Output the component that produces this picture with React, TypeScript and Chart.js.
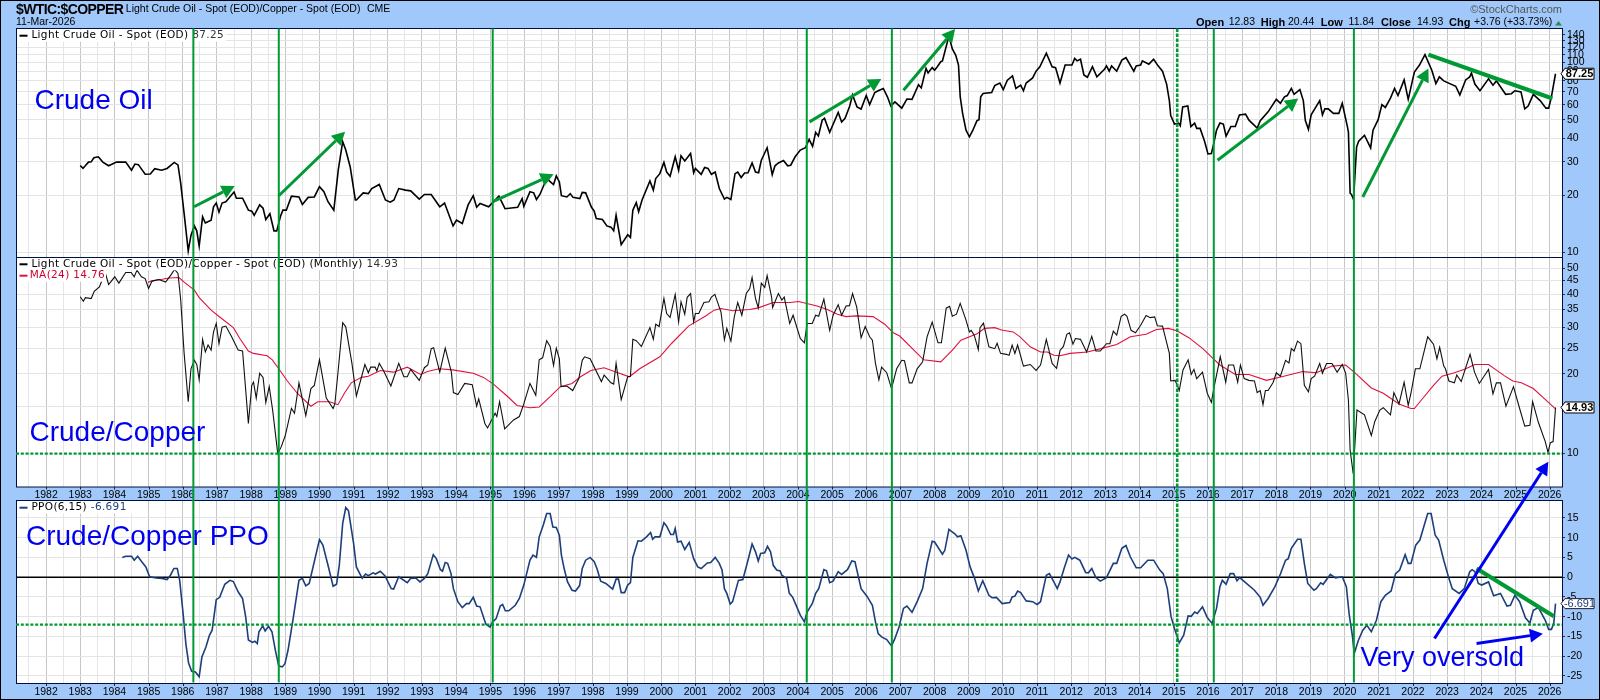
import React, { useEffect, useRef } from 'react'
import { Chart, registerables } from 'chart.js'

Chart.register(...registerables)

// all series are [decimal year, value]
const oilPoints: [number, number][] = [
  [1983.0,28.7],[1983.08,27.7],[1983.24,29.9],[1983.32,30],[1983.4,31.5],[1983.53,31.9],[1983.66,29.9],[1983.83,28.6],[1984.06,29.9],[1984.33,29.9],[1984.5,27.1],[1984.6,29.2],[1984.7,29],[1984.9,25.8],[1985.05,25.9],[1985.18,27.6],[1985.38,27.1],[1985.54,27.7],[1985.75,29.8],[1985.86,28.9],[1985.94,23.1],[1986.04,16],[1986.16,10.2],[1986.24,12.3],[1986.34,13.8],[1986.41,13],[1986.48,10.8],[1986.58,15.4],[1986.66,14.3],[1986.83,14.8],[1986.9,17.4],[1986.98,18.2],[1987.06,16.3],[1987.15,18.2],[1987.26,18.5],[1987.5,20.8],[1987.57,19.3],[1987.75,19.3],[1987.92,16.7],[1988.02,16.5],[1988.09,15.7],[1988.25,17.8],[1988.35,17.1],[1988.43,14.9],[1988.55,16],[1988.67,13],[1988.75,13],[1988.86,15.5],[1988.93,16.7],[1989.03,16.7],[1989.18,19.8],[1989.4,19.6],[1989.5,17.9],[1989.67,19.5],[1989.85,19.6],[1990.0,22.2],[1990.13,20.9],[1990.25,18.5],[1990.42,16.7],[1990.55,27.1],[1990.68,38.3],[1990.77,34.6],[1990.9,28.2],[1991.05,18.9],[1991.08,18.9],[1991.28,20.6],[1991.43,20.4],[1991.53,21.7],[1991.75,22.8],[1991.93,18.9],[1992.07,18.4],[1992.18,18.9],[1992.32,21.7],[1992.52,21.3],[1992.67,21.1],[1992.92,19.1],[1993.07,20.2],[1993.27,20.2],[1993.52,17.4],[1993.66,18.2],[1993.91,13.8],[1994.01,14.8],[1994.18,14.2],[1994.35,17.8],[1994.5,19.9],[1994.6,17.3],[1994.7,18.1],[1994.95,17.4],[1995.25,19.8],[1995.43,17],[1995.8,17.3],[1995.93,19.2],[1995.98,17.5],[1996.16,20.9],
  [1996.27,20.6],[1996.35,19],[1996.45,20.2],[1996.65,24.5],[1996.85,22.8],[1996.93,25.3],[1997.02,23.5],[1997.08,19.9],[1997.24,19.6],[1997.34,20.4],[1997.42,19.5],[1997.62,19.2],[1997.69,20.7],[1997.79,20.6],[1997.96,17.3],[1998.04,16.5],[1998.1,15.1],[1998.28,14.9],[1998.41,13.8],[1998.53,13.6],[1998.61,13],[1998.68,15.7],[1998.83,11],[1999.02,12.4],[1999.1,12],[1999.17,16.7],[1999.27,18.3],[1999.34,16.4],[1999.44,18.9],[1999.67,23.8],[1999.77,21.3],[1999.84,24.5],[1999.96,26],[2000.08,29.8],[2000.16,26.5],[2000.26,25.2],[2000.41,31.9],[2000.51,27.1],[2000.58,32.3],[2000.69,30.3],[2000.86,33.2],[2000.95,26.3],[2001.0,27.7],[2001.17,25.8],[2001.27,28],[2001.37,27.7],[2001.47,25.8],[2001.58,26.5],[2001.7,21.7],[2001.85,19.1],[2001.92,19.5],[2002.04,19],[2002.16,26],[2002.24,26.5],[2002.34,24.8],[2002.44,26.2],[2002.54,26.3],[2002.66,29.6],[2002.76,26.5],[2002.85,26.3],[2002.93,30.6],[2003.1,35.6],[2003.25,25.7],[2003.33,28.6],[2003.43,29.6],[2003.58,30.5],[2003.7,28.6],[2003.79,28.8],[2003.92,31.9],[2004.07,34.6],[2004.22,35.6],[2004.33,39.4],[2004.43,36.2],[2004.52,42.9],[2004.6,41.1],[2004.71,49.7],[2004.78,50.8],[2004.93,42.9],[2005.18,54.6],[2005.28,48.6],[2005.38,50.8],[2005.51,58.4],[2005.6,67.5],[2005.73,58.4],[2005.85,56.9],[2006.0,67],[2006.1,60],[2006.25,69.5],[2006.35,71],[2006.5,73],[2006.62,66],[2006.72,59],[2006.84,62],[2007.04,57.5],[2007.19,64.2],[2007.34,64],[2007.53,76.4],[2007.61,73.5],[2007.75,93],[2007.81,88],[2007.93,94],[2008.0,91],[2008.08,95],[2008.18,101],[2008.23,102],[2008.42,138],[2008.52,118],[2008.62,109],[2008.7,97],[2008.75,66],[2008.82,54],[2008.92,44],[2009.02,40.6],[2009.12,44],[2009.24,49.4],[2009.3,50],[2009.35,66],[2009.42,68.7],[2009.67,69.5],[2009.76,75.6],[2009.91,78],[2010.01,72],[2010.13,80.7],[2010.28,85],[2010.38,73],[2010.52,76],[2010.6,71],[2010.68,78],[2010.87,83],[2010.97,90],[2011.08,95],[2011.27,112],[2011.44,95],[2011.54,94],[2011.67,78],
  [2011.82,97],[2012.02,97],[2012.1,105],[2012.17,102],[2012.27,104],[2012.37,86],[2012.47,83.6],[2012.62,95],[2012.75,84],[2012.97,92],[2013.03,96],[2013.11,90],[2013.18,96],[2013.33,90],[2013.48,103],[2013.6,106],[2013.83,90],[2013.9,96],[2014.03,97],[2014.08,102],[2014.27,98],[2014.41,104],[2014.54,96],[2014.67,90],[2014.79,77],[2014.87,63],[2014.91,52.5],[2015.02,47.4],[2015.14,48],[2015.19,46.5],[2015.26,58.4],[2015.41,59],[2015.5,46],[2015.61,48],[2015.67,45],[2015.77,45],[2015.9,38.5],[2016.0,33],[2016.1,33.2],[2016.17,37.5],[2016.25,44],[2016.35,48],[2016.45,47.4],[2016.53,41],[2016.67,46],[2016.8,46],[2016.92,53],[2017.1,53.5],[2017.2,49.7],[2017.44,45.2],[2017.53,49.4],[2017.76,55],[2018.0,64],[2018.12,61],[2018.24,66],[2018.32,67],[2018.44,73],[2018.52,68],[2018.69,72],[2018.79,63],[2018.85,49.5],[2018.94,44.5],[2019.02,53],[2019.27,63],[2019.35,53],[2019.42,57],[2019.52,57],[2019.67,54],[2019.83,54],[2019.93,61],[2020.08,46],[2020.11,43],[2020.16,20.5],[2020.2,20.2],[2020.26,19],[2020.35,36],[2020.41,38.5],[2020.58,41.4],[2020.76,35.5],[2020.83,44],[2020.98,50],[2021.09,60],[2021.19,58],[2021.34,65],[2021.46,73],[2021.56,67],[2021.74,81],[2021.86,64],[2022.04,89],[2022.19,97],[2022.35,110],[2022.55,91],[2022.67,77.5],[2022.77,84],[2022.9,80],[2023.25,75],[2023.37,67.5],[2023.54,81],[2023.66,84],[2023.71,88],[2023.81,77],[2023.96,71],[2024.21,82],[2024.34,76],[2024.44,80],[2024.71,68],[2024.88,68.5],[2024.98,71],[2025.16,70],[2025.27,57],[2025.37,59],[2025.52,68],[2025.72,63],[2025.89,57.5],[2025.97,57.5],[2026.05,66],[2026.17,87.25],
]

const ratioPoints: [number, number][] = [
  [1983.0,39.1],[1983.09,37.6],[1983.15,38.8],[1983.32,38.5],[1983.41,41],[1983.56,42.6],[1983.73,48.3],[1983.83,43.5],[1984.01,46.5],[1984.13,44],[1984.33,48.3],[1984.49,48.3],[1984.58,46.5],[1984.66,49.3],[1984.79,46.5],[1984.9,45.8],[1985.0,42],[1985.1,44.8],[1985.3,45.4],[1985.5,44.4],[1985.65,47.2],[1985.76,49.6],[1985.86,47.9],[1985.94,38],[1986.04,23.9],[1986.16,15.7],[1986.24,20.9],[1986.34,22.5],[1986.41,21.7],[1986.48,19],[1986.58,27],[1986.66,24.2],[1986.74,25.7],[1986.83,24.6],[1986.9,28.8],[1986.98,31],[1987.06,26],[1987.15,30],[1987.26,30.3],[1987.43,27.6],[1987.62,24.6],[1987.75,24.4],[1987.92,13],[1988.02,18.1],[1988.07,18.6],[1988.15,16.2],[1988.25,20.1],[1988.35,19.4],[1988.43,15.6],[1988.53,17.9],[1988.63,14.6],[1988.78,10],[1988.88,10.6],[1989.0,11.7],[1989.18,14.8],[1989.27,14.2],[1989.4,18.5],[1989.6,13.9],[1989.75,17.6],[1989.85,18.1],[1990.0,22.6],[1990.2,16.2],[1990.4,14.8],[1990.45,15.4],[1990.54,20.1],[1990.68,31.2],[1990.77,30.1],[1990.95,21.9],[1991.08,16.5],[1991.33,21.7],[1991.43,20.2],[1991.5,21.2],[1991.63,21.2],[1991.68,20.5],[1991.75,21.9],[1991.88,20.5],[1992.09,18],[1992.32,21.9],[1992.47,19.5],[1992.57,19.5],[1992.67,20.8],[1992.92,18.9],[1993.07,21.1],[1993.17,21.6],[1993.27,24.9],[1993.34,25.1],[1993.52,20.3],[1993.68,25],[1993.86,20.3],[1993.92,17],[1994.05,16.7],[1994.25,18.4],[1994.47,18.2],[1994.6,15.1],[1994.66,16.1],[1994.84,13],[1994.92,12.5],[1995.14,14.2],[1995.19,13.8],[1995.27,15.7],[1995.42,12.4],[1995.68,13.4],[1995.85,13.8],[1995.98,15.4],[1996.16,18.4],
  [1996.33,16.6],[1996.43,22.6],[1996.53,23],[1996.65,26.7],[1996.75,25.4],[1996.85,21.5],[1996.93,25],[1997.02,22.8],[1997.07,17.9],[1997.24,18],[1997.41,17.3],[1997.59,19.2],[1997.69,22.5],[1997.76,23.2],[1997.92,22.8],[1998.25,18.7],[1998.33,19.8],[1998.53,18.5],[1998.61,18.3],[1998.68,21.9],[1998.83,16],[1999.02,19.5],[1999.1,19.6],[1999.17,27],[1999.27,26.7],[1999.34,26.1],[1999.42,25.4],[1999.67,29.9],[1999.77,27],[1999.84,30.8],[1999.94,30.2],[2000.08,38.5],[2000.16,33.8],[2000.26,32.7],[2000.41,39.9],[2000.51,31.4],[2000.58,37.4],[2000.69,33.6],[2000.76,38.9],[2000.86,40.2],[2000.95,31.4],[2001.0,33.8],[2001.1,33.8],[2001.25,37.2],[2001.4,37.4],[2001.47,39],[2001.57,39.9],[2001.75,34.2],[2001.85,26.9],[2001.92,29.7],[2002.04,26.6],[2002.14,32.9],[2002.24,37.2],[2002.36,33.3],[2002.49,40.2],[2002.59,42],[2002.66,46.2],[2002.76,38.5],[2002.84,35.5],[2002.93,44],[2003.03,42.4],[2003.1,47],[2003.23,39],[2003.26,35.6],[2003.43,40.2],[2003.53,38],[2003.6,39],[2003.76,31],[2003.86,33.3],[2004.07,27.2],[2004.19,26.2],[2004.27,31],[2004.42,31],[2004.52,33.3],[2004.61,33],[2004.76,38.3],[2004.93,29.2],[2005.03,33.3],[2005.18,36.5],[2005.28,33.3],[2005.41,36.1],[2005.51,36.2],[2005.6,40.2],[2005.72,35.8],[2005.85,27.4],[2005.97,30.2],[2006.1,27.6],[2006.18,26.8],[2006.27,21.9],[2006.37,19],[2006.45,21.2],[2006.6,20.2],[2006.74,17.6],[2006.89,20.9],[2007.04,22.5],[2007.12,22.4],[2007.26,18.5],[2007.34,18.5],[2007.49,20.9],[2007.65,22.2],[2007.78,27.6],[2007.93,31.4],[2008.1,26.2],[2008.2,26.2],[2008.34,35.4],[2008.44,36],[2008.52,33],[2008.64,33.6],[2008.75,36.9],[2008.92,31.9],[2009.02,28.8],[2009.07,29.2],[2009.16,28],[2009.28,24.7],[2009.33,29.9],[2009.43,31.1],[2009.59,25.3],[2009.76,24.9],[2009.83,26.1],[2009.93,23.9],[2010.1,23.7],[2010.18,23.5],[2010.27,25.7],[2010.35,23.9],[2010.43,25.7],[2010.6,21.4],[2010.8,21.7],[2010.97,20.6],[2011.1,21.6],[2011.27,27],[2011.44,21.9],[2011.57,21],[2011.67,24.5],
  [2011.77,25.4],[2011.87,28.2],[2011.95,28.6],[2012.05,25.9],[2012.12,27.2],[2012.27,27],[2012.45,24.2],[2012.6,27.7],[2012.72,24.4],[2012.85,24.4],[2013.03,26],[2013.13,26],[2013.23,29],[2013.33,28],[2013.46,33],[2013.56,33.6],[2013.63,33],[2013.75,29.2],[2013.88,28.6],[2014.03,30.5],[2014.19,33.2],[2014.31,32.6],[2014.44,32.8],[2014.52,30.4],[2014.67,30.3],[2014.87,23.9],[2014.91,18.8],[2015.04,18.9],[2015.16,17.3],[2015.27,20.7],[2015.42,22.6],[2015.51,19.9],[2015.59,20.8],[2015.67,19.2],[2015.84,20.3],[2015.98,16.9],[2016.1,15.6],[2016.17,17.6],[2016.36,23.2],[2016.52,18.6],[2016.6,21.6],[2016.75,21.6],[2016.87,18.6],[2016.95,21.6],[2017.06,19.2],[2017.2,18.9],[2017.36,18.8],[2017.44,17],[2017.53,17.3],[2017.61,15.3],[2017.68,17.3],[2017.76,17.3],[2017.91,18.6],[2018.0,20.2],[2018.12,19.6],[2018.27,22.5],[2018.37,22],[2018.44,24.9],[2018.52,24.4],[2018.62,26.6],[2018.72,26],[2018.82,18.1],[2018.94,17.1],[2019.02,19.2],[2019.12,19.6],[2019.27,21.9],[2019.35,20.1],[2019.47,21.9],[2019.63,21.9],[2019.78,20.3],[2019.93,21.7],[2020.03,20.1],[2020.11,15.9],[2020.16,10.3],[2020.25,8.4],[2020.36,14.6],[2020.58,14],[2020.78,11.7],[2020.88,13.2],[2021.03,14.6],[2021.13,14.9],[2021.34,14],[2021.44,17],[2021.59,15.4],[2021.74,18.6],[2021.86,15.2],[2021.94,16.9],[2022.07,20.9],[2022.2,20.9],[2022.43,27.6],[2022.6,25.9],[2022.7,22.8],[2022.78,25.2],[2022.9,21.4],[2022.95,20.9],[2023.05,18.8],[2023.21,18.5],[2023.28,19.8],[2023.41,18.7],[2023.67,23.7],[2023.8,20.3],[2023.94,18.4],[2024.21,20.8],[2024.34,16.8],[2024.44,18.5],[2024.56,18.5],[2024.72,15.1],[2024.94,17.9],[2025.12,14.8],[2025.27,12.7],[2025.42,12.8],[2025.5,15.7],[2025.67,13.1],[2025.87,11.1],[2025.95,10.1],[2026.02,11],[2026.1,11.1],[2026.17,14.93],
]

const maPoints: [number, number][] = [
  [1984.98,44.3],[1985.1,44.9],[1985.4,45.5],[1985.6,46],[1985.89,46.2],[1986.04,44.4],[1986.34,41.4],[1986.48,38.8],[1986.83,34.8],[1987.08,32.8],[1987.48,29.9],[1987.67,27.2],[1987.92,24.4],[1988.07,23.9],[1988.47,23.4],[1988.62,22.6],[1988.81,20.9],[1989.06,18.8],[1989.35,16.9],[1989.75,15.1],[1989.95,15.7],[1990.3,15.7],[1990.54,15.3],[1990.73,16.9],[1990.93,18.5],[1991.23,19.4],[1991.43,19.6],[1991.78,20.6],[1992.17,20.3],[1992.57,21.2],[1992.96,19.9],[1993.16,20.4],[1993.5,20.9],[1993.9,20.7],[1994.5,20.1],[1994.8,19.4],[1995.09,18.3],[1995.49,16.5],[1995.78,15.2],[1996.16,14.9],
  [1996.43,15],[1996.75,16.4],[1997.05,17.9],[1997.39,18.4],[1997.64,19.5],[1997.94,20.6],[1998.33,21.1],[1998.63,20.4],[1999.07,19.5],[1999.37,20.9],[1999.96,23.2],[2000.31,26.1],[2000.8,30.3],[2001.3,33.1],[2001.55,34.8],[2001.75,35.3],[2002.09,34.6],[2002.59,35],[2002.84,35.5],[2003.28,37.2],[2003.77,37.2],[2004.02,37.5],[2004.32,36.7],[2004.56,36.1],[2004.86,35],[2005.16,33.6],[2005.41,32.9],[2005.7,33.1],[2006.2,32.9],[2006.54,30.8],[2006.79,28.6],[2006.98,27.8],[2007.68,22.6],[2008.18,22.2],[2008.52,24.6],[2008.77,26.8],[2009.26,28.4],[2009.46,29.7],[2009.76,29.9],[2009.96,29.3],[2010.3,28.8],[2010.5,27.6],[2010.8,25.3],[2011.1,24.2],[2011.3,24.2],[2011.49,23.5],[2011.67,23.4],
  [2011.97,23.9],[2012.47,24.2],[2012.87,24.9],[2013.33,25.8],[2013.73,27.6],[2014.19,28.2],[2014.49,29.4],[2014.84,29.7],[2015.09,29.1],[2015.44,27.4],[2015.85,24.9],[2016.1,23.2],[2016.35,21.6],[2016.8,19.9],[2017.2,19.9],[2017.71,18.9],[2018.22,19.6],[2018.77,20.4],[2019.17,20.2],[2019.63,21.4],[2020.03,21.6],[2020.28,20.3],[2020.78,17.7],[2021.13,16.9],[2021.59,15.4],[2021.94,14.8],[2022.04,14.8],[2022.24,15.9],[2022.6,18.1],[2022.85,19.6],[2023.21,20.2],[2023.51,20.8],[2023.81,21.7],[2024.21,21.7],[2024.67,19.7],[2024.92,18.8],[2025.17,18.5],[2025.52,17.6],[2025.78,16.4],[2026.17,14.76],
]

const ppoPoints: [number, number][] = [
  [1984.23,5],[1984.33,5.3],[1984.5,5.3],[1984.58,4.3],[1984.68,5.3],[1984.8,3.9],[1984.92,2.6],[1985.03,0.1],[1985.22,-0.2],[1985.39,-0.3],[1985.54,-0.6],[1985.64,0.5],[1985.74,2.2],[1985.84,2.2],[1985.91,-0.8],[1986.01,-9.2],[1986.09,-16.8],[1986.17,-21.7],[1986.26,-23.8],[1986.37,-24],[1986.48,-25.2],[1986.56,-20.2],[1986.68,-17.6],[1986.78,-14.7],[1986.86,-13.4],[1986.98,-5.7],[1987.08,-5.1],[1987.23,-1.8],[1987.38,-0.8],[1987.48,-1.1],[1987.62,-3.7],[1987.75,-5.4],[1987.84,-10],[1987.92,-15.9],[1988.04,-16.5],[1988.11,-16.2],[1988.18,-16.8],[1988.23,-13.8],[1988.34,-12.3],[1988.41,-13.6],[1988.51,-12.4],[1988.61,-13.8],[1988.71,-18.5],[1988.81,-22.5],[1988.91,-22.7],[1988.99,-21.9],[1989.08,-18.5],[1989.23,-10.5],[1989.4,-0.8],[1989.5,-0.3],[1989.6,-2.2],[1989.7,-1.6],[1990.0,9.5],[1990.1,8.1],[1990.25,3],[1990.4,-2.3],[1990.5,-1.8],[1990.58,3],[1990.68,13.6],[1990.77,17.6],[1990.85,16.8],[1991.0,8.5],[1991.08,2.6],[1991.25,-0.3],[1991.35,0.8],[1991.43,0.4],[1991.57,1.1],[1991.64,0.8],[1991.78,1.5],[1991.92,0.3],[1992.1,-2.9],[1992.17,-3],[1992.32,0.1],[1992.57,-1.4],[1992.67,-0.3],[1992.82,-0.2],[1992.94,-1.2],[1993.07,-0.3],[1993.17,0.9],[1993.33,5.7],[1993.42,4.7],[1993.54,1.9],[1993.6,1.5],[1993.68,3.7],[1993.75,3.5],[1993.85,0.9],[1993.92,-2.9],[1994.05,-6.2],[1994.18,-7.7],[1994.3,-6.7],[1994.38,-6.7],[1994.5,-5.1],[1994.6,-7.3],[1994.7,-7.5],[1994.87,-11.9],[1994.99,-12.6],[1995.07,-11.3],[1995.17,-10.5],[1995.29,-7.3],[1995.36,-6.9],[1995.44,-8.5],[1995.54,-8.5],[1995.73,-7.1],[1995.85,-5.4],[1995.98,-2],[1996.16,4.3],
  [1996.25,5.6],[1996.35,5],[1996.43,10.2],[1996.55,13.2],[1996.65,16.1],[1996.75,16.1],[1996.83,12.7],[1996.93,12.6],[1997.02,10.6],[1997.08,5.6],[1997.17,1.8],[1997.26,-1.2],[1997.39,-3.3],[1997.49,-3.5],[1997.61,-2.2],[1997.69,2.2],[1997.79,4.3],[1997.92,5],[1998.04,3.9],[1998.12,2.2],[1998.23,-1],[1998.38,-1.6],[1998.58,-3],[1998.68,-0.5],[1998.75,-0.5],[1998.83,-3.9],[1998.93,-3.9],[1999.02,-2],[1999.1,-1.4],[1999.17,5],[1999.32,9.2],[1999.42,9.1],[1999.57,10.2],[1999.69,11.3],[1999.75,9.6],[1999.82,10.2],[1999.96,10.2],[2000.08,13.8],[2000.16,12.9],[2000.28,10.8],[2000.36,10.8],[2000.41,12.3],[2000.48,8.9],[2000.58,9.1],[2000.69,7],[2000.82,8.8],[2000.95,4.7],[2001.07,2.6],[2001.17,2.2],[2001.35,3.6],[2001.45,3.7],[2001.58,5],[2001.7,3.5],[2001.78,1.8],[2001.85,-2.9],[2001.92,-4.1],[2002.02,-6.8],[2002.09,-6.2],[2002.26,-0.8],[2002.39,-0.6],[2002.54,4.3],[2002.66,8.4],[2002.76,6.4],[2002.84,4.1],[2002.91,6],[2003.03,6.2],[2003.11,7.8],[2003.2,6.4],[2003.28,3],[2003.38,1.8],[2003.48,1.6],[2003.53,0.5],[2003.67,-0.3],[2003.75,-4.1],[2003.85,-5.1],[2004.07,-9.6],[2004.19,-11.3],[2004.27,-8.8],[2004.42,-6.7],[2004.52,-4.1],[2004.61,-2.9],[2004.76,1.9],[2004.84,1.6],[2004.93,-1.4],[2005.03,-1],[2005.18,1.4],[2005.28,0.7],[2005.45,1.9],[2005.58,4.1],[2005.67,3.9],[2005.75,0.9],[2005.85,-2.9],[2006.02,-4.8],[2006.18,-7.1],[2006.27,-11.3],[2006.35,-14.3],[2006.45,-15.1],[2006.6,-15.8],[2006.74,-17.4],[2006.84,-15.5],[2006.96,-12.6],[2007.09,-7.9],[2007.19,-7.3],[2007.34,-8.9],[2007.49,-6.2],[2007.65,-2.9],[2007.78,3.5],[2007.93,9.1],[2008.0,8.9],[2008.23,5.8],[2008.3,6.8],[2008.42,12.1],[2008.6,10.9],[2008.67,10.2],[2008.77,10.5],[2008.92,6.8],[2009.04,2.6],[2009.17,-0.3],[2009.28,-3.5],[2009.41,-0.9],[2009.59,-4.6],[2009.68,-5.2],[2009.81,-5.1],[2009.98,-6.7],[2010.2,-6.4],[2010.27,-5],[2010.35,-4.8],[2010.43,-3.5],[2010.52,-3.9],[2010.68,-6],[2010.87,-6.2],[2011.0,-6.9],[2011.1,-6.2],[2011.27,0.5],[2011.36,0.9],[2011.49,-1.2],[2011.59,-2.9],[2011.67,-1.2],
  [2011.79,2.2],[2011.92,5.6],[2012.02,4.6],[2012.1,5],[2012.25,4.3],[2012.42,1.2],[2012.5,1.1],[2012.6,2.2],[2012.72,-0.1],[2012.85,-1],[2013.03,-0.1],[2013.23,3.5],[2013.33,3.5],[2013.48,7.3],[2013.6,8],[2013.73,5.1],[2013.9,2.4],[2014.03,2.4],[2014.24,4.3],[2014.41,4.3],[2014.59,1.8],[2014.69,0.9],[2014.81,-2.9],[2014.92,-10],[2015.02,-13],[2015.16,-16.6],[2015.29,-14.7],[2015.42,-9.8],[2015.51,-9.9],[2015.61,-8.8],[2015.69,-9.2],[2015.84,-7.5],[2015.98,-10.2],[2016.12,-11.7],[2016.25,-7.9],[2016.35,-2.4],[2016.42,-0.8],[2016.53,-1.8],[2016.65,0.9],[2016.75,0.9],[2016.85,-0.9],[2016.93,-0.1],[2017.1,-1.4],[2017.36,-3.3],[2017.53,-5.1],[2017.61,-7.1],[2017.76,-5.4],[2017.96,-2.4],[2018.12,0.8],[2018.27,4.3],[2018.35,4.7],[2018.44,7.3],[2018.62,9.6],[2018.72,9.6],[2018.82,3.5],[2018.92,-1.6],[2019.1,-3.3],[2019.17,-2.9],[2019.3,-1.4],[2019.37,-1.8],[2019.58,0.7],[2019.73,-0.2],[2019.93,0.1],[2020.05,-2.4],[2020.13,-9.2],[2020.23,-15.1],[2020.28,-19.3],[2020.4,-16],[2020.53,-13.4],[2020.65,-12.2],[2020.78,-13.8],[2020.93,-10.9],[2021.06,-6.2],[2021.19,-4.6],[2021.36,-3.5],[2021.49,0.9],[2021.61,1.8],[2021.77,5.7],[2021.86,3.5],[2021.94,3.5],[2022.08,8.1],[2022.2,9.4],[2022.43,16.1],[2022.53,16.1],[2022.65,10.6],[2022.75,9.4],[2022.9,4.3],[2023.05,-0.3],[2023.15,-2.9],[2023.35,-4.1],[2023.5,-2.9],[2023.66,1.4],[2023.73,1.9],[2023.81,1.4],[2023.91,-1.6],[2024.01,-2],[2024.21,-1.2],[2024.36,-4.7],[2024.56,-4.1],[2024.75,-7.3],[2024.85,-7.1],[2024.98,-4.6],[2025.12,-6.2],[2025.29,-10.3],[2025.42,-11.6],[2025.52,-8.4],[2025.67,-7.7],[2025.87,-10.9],[2025.97,-13.2],[2026.05,-13.2],[2026.12,-11.7],[2026.17,-6.691],
]

const yearLabels = Array.from({ length: 45 }, (_, i) => 1982 + i)
const oilTicks = [10, 20, 30, 40, 50, 60, 70, 80, 90, 100, 110, 120, 130, 140]
const ratioTicks = [10, 15, 20, 25, 30, 35, 40, 45, 50]
const ppoTicks = [15, 10, 5, 0, -5, -10, -15, -20, -25]

const solidMarks = [1986.31, 1988.81, 1995.07, 2004.26, 2006.75, 2016.17, 2020.27]
const dashedMarks = [2015.1]
const ratioFloor = 10
const ppoFloor = -12

// [from year, from value, to year, to value]
const oilArrows = [
  [1986.33, 17.4, 1987.52, 22.4],
  [1988.81, 19.9, 1990.75, 43.2],
  [1995.09, 18.6, 1996.85, 25.8],
  [2004.34, 48.7, 2006.44, 82],
  [2007.09, 71.5, 2008.6, 150],
  [2016.28, 30.6, 2018.64, 64.7],
  [2020.53, 19.6, 2022.45, 92.9],
]
const oilTrend = [2022.45, 110, 2026.08, 64.7]
const ppoTrend = [2023.86, 2.2, 2026.12, -9.9]
const ppoArrows = [
  [2022.63, -15.5, 2025.96, 29.2],
  [2023.86, -16.8, 2025.8, -14.3],
]

const GREEN = '#009933'
const BLUE = '#0000F0'
const NAVY = '#001040'
const BAND = '#A0C8FA'
const SANS = '"Liberation Sans", Arial, sans-serif'
const LEGEND = '"DejaVu Sans", Verdana, sans-serif'

const PLOT = { left: 16, right: 1562, top: 28.5, split: 257.5, midBottom: 487, lowTop: 500.5, bottom: 683.5 }

const toXY = (pts: [number, number][]) => pts.map(([x, y]) => ({ x, y }))

function xTicks(scale: any) {
  const out: { value: number }[] = []
  yearLabels.forEach(y => {
    out.push({ value: y - 0.5 })
    out.push({ value: y })
  })
  scale.ticks = out
}

function text(ctx: CanvasRenderingContext2D, s: string, x: number, y: number, font: string, color: string, align: CanvasTextAlign = 'left') {
  ctx.font = font
  ctx.fillStyle = color
  ctx.textAlign = align
  ctx.textBaseline = 'middle'
  ctx.fillText(s, x, y)
}

function segment(ctx: CanvasRenderingContext2D, x1: number, y1: number, x2: number, y2: number, color: string, width: number, dash: number[] = []) {
  ctx.save()
  ctx.strokeStyle = color
  ctx.lineWidth = width
  ctx.setLineDash(dash)
  ctx.beginPath()
  ctx.moveTo(x1, y1)
  ctx.lineTo(x2, y2)
  ctx.stroke()
  ctx.restore()
}

function arrow(ctx: CanvasRenderingContext2D, x1: number, y1: number, x2: number, y2: number, color: string) {
  const a = Math.atan2(y2 - y1, x2 - x1)
  const len = 13
  const half = 7
  const bx = x2 - len * Math.cos(a)
  const by = y2 - len * Math.sin(a)
  segment(ctx, x1, y1, bx, by, color, 3)
  ctx.fillStyle = color
  ctx.beginPath()
  ctx.moveTo(x2, y2)
  ctx.lineTo(bx + half * Math.sin(a), by - half * Math.cos(a))
  ctx.lineTo(bx - half * Math.sin(a), by + half * Math.cos(a))
  ctx.closePath()
  ctx.fill()
}

function valueTag(ctx: CanvasRenderingContext2D, label: string, y: number, bold: boolean, color: string) {
  const x0 = 1565
  const x1 = 1594
  const half = bold ? 5.5 : 5
  ctx.fillStyle = '#fff'
  ctx.strokeStyle = bold ? '#000' : '#223'
  ctx.lineWidth = 1
  ctx.beginPath()
  ctx.moveTo(x0 - 4, y)
  ctx.lineTo(x0, y - half)
  ctx.lineTo(x1, y - half)
  ctx.lineTo(x1, y + half)
  ctx.lineTo(x0, y + half)
  ctx.closePath()
  ctx.fill()
  ctx.stroke()
  text(ctx, label, (x0 + x1) / 2, y + 0.5, `${bold ? 'bold ' : ''}11px ${SANS}`, color, 'center')
}

function legendRow(ctx: CanvasRenderingContext2D, y: number, dash: string, parts: [string, string][], startX: number, bgRight: number) {
  ctx.fillStyle = '#fff'
  ctx.fillRect(PLOT.left + 1, y - 6, bgRight - PLOT.left - 1, 12)
  segment(ctx, 19.5, y, 27.5, y, dash, 2)
  let x = startX
  const font = `10.5px ${LEGEND}`
  ctx.font = font
  ctx.letterSpacing = '0.35px'
  parts.forEach(([s, color]) => {
    text(ctx, s, x, y, font, color)
    x += ctx.measureText(s).width
  })
  ctx.letterSpacing = '0px'
}

const panelPlugin = {
  id: 'panels',
  afterLayout(chart: any) {
    const place = (s: any, l: number, t: number, r: number, b: number) => {
      s.left = l
      s.top = t
      s.right = r
      s.bottom = b
      s.width = r - l
      s.height = b - t
      s.configure()
    }
    const s = chart.scales
    place(s.x, PLOT.left, PLOT.midBottom, PLOT.right, PLOT.lowTop)
    place(s.xBottom, PLOT.left, PLOT.bottom, PLOT.right, 699)
    place(s.yOil, PLOT.right, PLOT.top, 1600, PLOT.split)
    place(s.yRatio, PLOT.right, PLOT.split, 1600, PLOT.midBottom)
    place(s.yPpo, PLOT.right, PLOT.lowTop, 1600, PLOT.bottom)
    Object.assign(chart.chartArea, {
      left: PLOT.left,
      right: PLOT.right,
      top: PLOT.top,
      bottom: PLOT.bottom,
      width: PLOT.right - PLOT.left,
      height: PLOT.bottom - PLOT.top,
    })
  },
  beforeDraw(chart: any) {
    const { ctx } = chart
    ctx.save()
    ctx.fillStyle = BAND
    ctx.fillRect(0, 0, 1600, 700)
    ctx.fillStyle = '#fff'
    ctx.fillRect(PLOT.left, PLOT.top, PLOT.right - PLOT.left, PLOT.bottom - PLOT.top)
    ctx.restore()
  },
  beforeDatasetsDraw(chart: any) {
    const { ctx, scales } = chart
    ctx.save()
    ctx.fillStyle = BAND
    ctx.fillRect(PLOT.left, PLOT.midBottom, PLOT.right - PLOT.left, PLOT.lowTop - PLOT.midBottom)
    // year ticks hanging under the middle and lower panels
    yearLabels.forEach(y => {
      const px = Math.round(scales.x.getPixelForValue(y)) + 0.5
      segment(ctx, px, PLOT.midBottom, px, PLOT.midBottom + 2.5, '#223', 1)
      segment(ctx, px, PLOT.bottom, px, PLOT.bottom + 2.5, '#223', 1)
    })
    const zero = scales.yPpo.getPixelForValue(0)
    segment(ctx, PLOT.left, zero, PLOT.right, zero, '#000', 1.6)
    ctx.restore()
  },
  afterDatasetsDraw(chart: any) {
    const { ctx } = chart
    ctx.save()
    legendRow(ctx, 35.7, '#000', [['Light Crude Oil - Spot (EOD) ', '#000'], ['87.25', '#333']], 31.4, 226)
    legendRow(ctx, 264.3, '#000', [['Light Crude Oil - Spot (EOD)/Copper - Spot (EOD) (Monthly) ', '#000'], ['14.93', '#333']], 31.4, 403)
    legendRow(ctx, 275.7, '#E0103C', [['MA(24) 14.76', '#D00030']], 29.7, 106)
    legendRow(ctx, 507.7, '#1C3F7C', [['PPO(6,15) ', '#000'], ['-6.691', '#1C3F7C']], 31.4, 132)
    ctx.restore()
  },
  afterDraw(chart: any) {
    const { ctx, scales } = chart
    const { x, yOil, yRatio, yPpo } = scales
    ctx.save()

    // frame
    ctx.strokeStyle = NAVY
    ctx.lineWidth = 1
    ctx.strokeRect(PLOT.left + 0.5, PLOT.top, PLOT.right - PLOT.left, PLOT.midBottom - PLOT.top)
    ctx.strokeRect(PLOT.left + 0.5, PLOT.lowTop, PLOT.right - PLOT.left, PLOT.bottom - PLOT.lowTop)
    segment(ctx, PLOT.left, PLOT.split, PLOT.right, PLOT.split, NAVY, 1)
    ctx.strokeStyle = '#000'
    ctx.strokeRect(0.5, 0.5, 1599, 699)

    // dashed floors
    const rf = yRatio.getPixelForValue(ratioFloor)
    segment(ctx, PLOT.left, rf, PLOT.right, rf, GREEN, 2.4, [3, 1.8])
    const pf = yPpo.getPixelForValue(ppoFloor)
    segment(ctx, PLOT.left, pf, PLOT.right, pf, GREEN, 2.4, [3, 1.8])

    // event lines
    solidMarks.forEach(m => {
      const px = x.getPixelForValue(m)
      segment(ctx, px, PLOT.top, px, PLOT.bottom - 1, GREEN, 2)
    })
    dashedMarks.forEach(m => {
      const px = x.getPixelForValue(m)
      segment(ctx, px, PLOT.top, px, PLOT.bottom - 1, GREEN, 2.6, [3.5, 1.5])
    })

    // arrows and trend lines
    oilArrows.forEach(a =>
      arrow(ctx, x.getPixelForValue(a[0]), yOil.getPixelForValue(a[1]), x.getPixelForValue(a[2]), yOil.getPixelForValue(a[3]), GREEN)
    )
    segment(ctx, x.getPixelForValue(oilTrend[0]), yOil.getPixelForValue(oilTrend[1]), x.getPixelForValue(oilTrend[2]), yOil.getPixelForValue(oilTrend[3]), GREEN, 4.2)
    segment(ctx, x.getPixelForValue(ppoTrend[0]), yPpo.getPixelForValue(ppoTrend[1]), x.getPixelForValue(ppoTrend[2]), yPpo.getPixelForValue(ppoTrend[3]), GREEN, 4.2)
    ppoArrows.forEach(a =>
      arrow(ctx, x.getPixelForValue(a[0]), yPpo.getPixelForValue(a[1]), x.getPixelForValue(a[2]), yPpo.getPixelForValue(a[3]), BLUE)
    )

    // blue captions
    const note = `28px ${SANS}`
    text(ctx, 'Crude Oil', 34.5, 101, note, BLUE)
    text(ctx, 'Crude/Copper', 29.5, 433, note, BLUE)
    text(ctx, 'Crude/Copper PPO', 26, 537, note, BLUE)
    text(ctx, 'Very oversold', 1360.5, 659, `27px ${SANS}`, BLUE)

    // header
    ctx.letterSpacing = '-0.6px'
    text(ctx, '$WTIC:$COPPER', 16, 10, `bold 14px ${SANS}`, '#000')
    ctx.letterSpacing = '0px'
    text(ctx, 'Light Crude Oil - Spot (EOD)/Copper - Spot (EOD)', 125.8, 9.5, `10.5px ${SANS}`, '#000')
    text(ctx, 'CME', 367, 9.5, `10.5px ${SANS}`, '#000')
    text(ctx, '11-Mar-2026', 16, 22.5, `10.5px ${SANS}`, '#000')
    text(ctx, '©StockCharts.com', 1562, 9.5, `11px ${SANS}`, '#555', 'right')
    const bold = `bold 11px ${SANS}`
    const plain = `10.5px ${SANS}`
    text(ctx, 'Open', 1196, 22.5, bold, '#000')
    text(ctx, '12.83', 1228.7, 22.5, plain, '#000')
    text(ctx, 'High', 1260.8, 22.5, bold, '#000')
    text(ctx, '20.44', 1288, 22.5, plain, '#000')
    text(ctx, 'Low', 1320.7, 22.5, bold, '#000')
    text(ctx, '11.84', 1348.6, 22.5, plain, '#000')
    text(ctx, 'Close', 1381, 22.5, bold, '#000')
    text(ctx, '14.93', 1417, 22.5, plain, '#000')
    text(ctx, 'Chg', 1449, 22.5, bold, '#000')
    text(ctx, '+3.76 (+33.73%)', 1474, 22.5, plain, '#000')
    ctx.fillStyle = '#2E8B57'
    ctx.beginPath()
    ctx.moveTo(1555, 25.5)
    ctx.lineTo(1562, 25.5)
    ctx.lineTo(1558.5, 21)
    ctx.closePath()
    ctx.fill()

    // last value tags
    valueTag(ctx, '87.25', yOil.getPixelForValue(87.25), true, '#000')
    valueTag(ctx, '14.93', yRatio.getPixelForValue(14.93), true, '#000')
    valueTag(ctx, '-6.691', yPpo.getPixelForValue(-6.691), false, '#1C3F7C')
    ctx.restore()
  },
}

const yAxis = (min: number, max: number, type: string, values: number[]) => ({
  type,
  position: 'right',
  min,
  max,
  afterBuildTicks: (scale: any) => {
    scale.ticks = values.map(value => ({ value }))
  },
  grid: { color: '#E4E4E4', lineWidth: 1, tickLength: 3, tickColor: '#333', tickBorderDash: [] },
  border: { display: false },
  ticks: {
    autoSkip: false,
    padding: 2,
    z: 1,
    color: '#000',
    font: { family: SANS, size: 10.5 },
    callback: (v: number) => String(v),
  },
})

const xLabels = {
  autoSkip: false,
  maxRotation: 0,
  padding: 2,
  z: 1,
  color: '#000',
  font: { family: SANS, size: 10.5 },
  callback: (v: number) => (Number.isInteger(v) ? String(v) : ''),
}

export default function App() {
  const canvasRef = useRef<HTMLCanvasElement>(null)

  useEffect(() => {
    if (!canvasRef.current) return
    const chart = new Chart(canvasRef.current, {
      type: 'line',
      data: {
        datasets: [
          { data: toXY(oilPoints), yAxisID: 'yOil', borderColor: '#000', borderWidth: 1.6, pointRadius: 0, tension: 0 },
          { data: toXY(ratioPoints), yAxisID: 'yRatio', borderColor: '#111', borderWidth: 1.1, pointRadius: 0, tension: 0 },
          { data: toXY(maPoints), yAxisID: 'yRatio', borderColor: '#E0103C', borderWidth: 1.1, pointRadius: 0, tension: 0 },
          { data: toXY(ppoPoints), yAxisID: 'yPpo', borderColor: '#1C3F7C', borderWidth: 1.6, pointRadius: 0, tension: 0 },
        ],
      },
      options: {
        responsive: false,
        animation: false,
        parsing: false,
        plugins: { legend: { display: false }, tooltip: { enabled: false } },
        scales: {
          x: {
            type: 'linear',
            position: 'bottom',
            min: 1981.12,
            max: 2026.36,
            afterBuildTicks: xTicks,
            grid: {
              color: (c: any) => (Number.isInteger(c.tick?.value) ? '#C6C6C6' : '#E6E6E6'),
              drawTicks: false,
            },
            border: { display: false },
            ticks: xLabels,
          },
          xBottom: {
            type: 'linear',
            position: 'bottom',
            min: 1981.12,
            max: 2026.36,
            afterBuildTicks: xTicks,
            grid: { display: false, drawTicks: false },
            border: { display: false },
            ticks: xLabels,
          },
          yOil: yAxis(9.41, 151, 'logarithmic', oilTicks),
          yRatio: yAxis(7.48, 55, 'logarithmic', ratioTicks),
          yPpo: yAxis(-26.9, 19.4, 'linear', ppoTicks),
        },
      } as any,
      plugins: [panelPlugin],
    })
    return () => chart.destroy()
  }, [])

  return (
    <div style={{ position: 'absolute', left: 0, top: 0, width: 1600, height: 700 }}>
      <canvas ref={canvasRef} width={1600} height={700} style={{ display: 'block' }} />
    </div>
  )
}
